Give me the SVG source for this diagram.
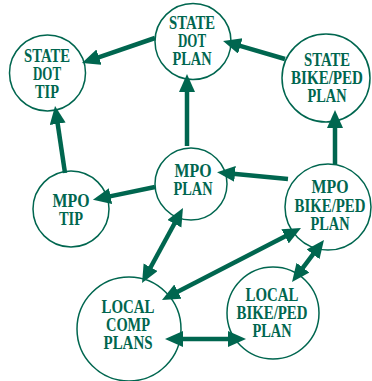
<svg xmlns="http://www.w3.org/2000/svg" width="372" height="381" viewBox="0 0 372 381">
<defs>
<style>
.n{fill:#fff;stroke:#00664f;stroke-width:1.5}
.t{font-family:"Liberation Serif","Times New Roman",serif;font-weight:bold;font-size:18px;fill:#00664f;text-anchor:middle}
.c line{stroke:#00664f;stroke-width:4.5}
.a{marker-end:url(#ah)}
.d{marker-start:url(#ah);marker-end:url(#ah)}
</style>
<marker id="ah" markerUnits="userSpaceOnUse" markerWidth="20" markerHeight="18" refX="2" refY="8" orient="auto-start-reverse" viewBox="0 0 20 18">
<path d="M0,0 L18,8 L0,16 z" fill="#00664f"/>
</marker>
</defs>
<rect width="372" height="381" fill="#fff"/>
<g id="n-statedottip"><circle class="n" cx="47.5" cy="73" r="38"/>
<text class="t" x="47" y="62" textLength="46" lengthAdjust="spacingAndGlyphs">STATE</text>
<text class="t" x="47" y="80" textLength="28" lengthAdjust="spacingAndGlyphs">DOT</text>
<text class="t" x="47" y="98" textLength="24" lengthAdjust="spacingAndGlyphs">TIP</text></g>
<g id="n-statedotplan"><circle class="n" cx="193" cy="41.5" r="38"/>
<text class="t" x="192" y="29" textLength="46" lengthAdjust="spacingAndGlyphs">STATE</text>
<text class="t" x="192" y="47" textLength="28" lengthAdjust="spacingAndGlyphs">DOT</text>
<text class="t" x="192" y="65" textLength="39" lengthAdjust="spacingAndGlyphs">PLAN</text></g>
<g id="n-statebikeped"><circle class="n" cx="326" cy="78" r="44"/>
<text class="t" x="327" y="66" textLength="46" lengthAdjust="spacingAndGlyphs">STATE</text>
<text class="t" x="327" y="84" textLength="72" lengthAdjust="spacingAndGlyphs">BIKE/PED</text>
<text class="t" x="327" y="102" textLength="39" lengthAdjust="spacingAndGlyphs">PLAN</text></g>
<g id="n-mpoplan"><circle class="n" cx="191" cy="184" r="36"/>
<text class="t" x="193" y="177" textLength="37" lengthAdjust="spacingAndGlyphs">MPO</text>
<text class="t" x="193" y="195" textLength="39" lengthAdjust="spacingAndGlyphs">PLAN</text></g>
<g id="n-mpotip"><circle class="n" cx="71" cy="209" r="38"/>
<text class="t" x="71" y="207" textLength="37" lengthAdjust="spacingAndGlyphs">MPO</text>
<text class="t" x="71" y="225" textLength="24" lengthAdjust="spacingAndGlyphs">TIP</text></g>
<g id="n-mpobikeped"><circle class="n" cx="328" cy="207" r="43"/>
<text class="t" x="330" y="193" textLength="37" lengthAdjust="spacingAndGlyphs">MPO</text>
<text class="t" x="330" y="212" textLength="71" lengthAdjust="spacingAndGlyphs">BIKE/PED</text>
<text class="t" x="330" y="230" textLength="39" lengthAdjust="spacingAndGlyphs">PLAN</text></g>
<g id="n-localcomp"><circle class="n" cx="129" cy="329" r="52"/>
<text class="t" x="128" y="313" textLength="53" lengthAdjust="spacingAndGlyphs">LOCAL</text>
<text class="t" x="128" y="331" textLength="44" lengthAdjust="spacingAndGlyphs">COMP</text>
<text class="t" x="128" y="349" textLength="49" lengthAdjust="spacingAndGlyphs">PLANS</text></g>
<g id="n-localbikeped"><circle class="n" cx="273" cy="313" r="46"/>
<text class="t" x="272" y="301" textLength="53" lengthAdjust="spacingAndGlyphs">LOCAL</text>
<text class="t" x="272" y="319" textLength="71" lengthAdjust="spacingAndGlyphs">BIKE/PED</text>
<text class="t" x="272" y="337" textLength="39" lengthAdjust="spacingAndGlyphs">PLAN</text></g>
<g id="connectors" class="c">
<line class="a" x1="155" y1="38" x2="97.1" y2="57.8"/>
<line class="a" x1="65" y1="173" x2="57.4" y2="121.8"/>
<line class="a" x1="187" y1="146" x2="187" y2="90"/>
<line class="a" x1="285" y1="59" x2="238.4" y2="45.4"/>
<line class="a" x1="335" y1="164" x2="335" y2="126"/>
<line class="a" x1="288" y1="179" x2="233" y2="173.7"/>
<line class="a" x1="155" y1="187" x2="108.6" y2="196.6"/>
<line class="d" x1="175.3" y1="222" x2="149.7" y2="269"/>
<line class="d" x1="286.8" y1="235.4" x2="176.2" y2="292.6"/>
<line class="d" x1="314.3" y1="252.7" x2="301.7" y2="269.3"/>
<line class="d" x1="181" y1="339" x2="230" y2="339"/>
</g>
</svg>
